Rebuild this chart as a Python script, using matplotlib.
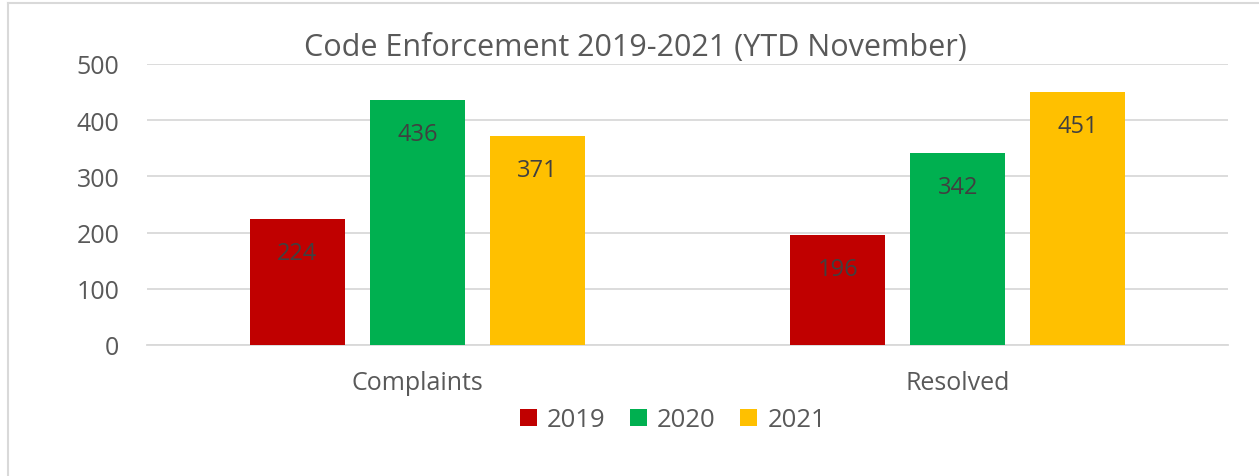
import matplotlib.pyplot as plt
import numpy as np
from matplotlib.lines import Line2D

# data
categories = ["Complaints", "Resolved"]
years = ["2019", "2020", "2021"]
values_2019 = [224, 196]
values_2020 = [436, 342]
values_2021 = [371, 451]
colors = ["#C00000", "#00B050", "#FFC000"]

plt.rcParams["font.family"] = ["Open Sans", "DejaVu Sans"]

fig = plt.figure(figsize=(12.59, 4.77), dpi=100)
ax = fig.add_axes([147 / 1259, 131 / 477, 1081 / 1259, 281 / 477])

x = np.arange(len(categories))
width = 0.176
step = 0.222
series = [values_2019, values_2020, values_2021]

for i, (vals, yr, col) in enumerate(zip(series, years, colors)):
    pos = x + (i - 1) * step
    bars = ax.bar(pos, vals, width, color=col, label=yr, zorder=3)
    for b, v in zip(bars, vals):
        ax.annotate(
            str(v),
            (b.get_x() + b.get_width() / 2, v),
            xytext=(0, -34),
            textcoords="offset pixels",
            ha="center",
            va="center",
            fontsize=17,
            color="#404040",
            zorder=4
        )

ax.set_xlim(-0.5, 1.5)
ax.set_ylim(0, 500)
ax.set_yticks(range(0, 501, 100))
ax.grid(axis="y", color="#d9d9d9", linewidth=1.3, zorder=0)
ax.set_xticks(x)
ax.set_xticklabels(categories)

for s in ["top", "right", "left"]:
    ax.spines[s].set_visible(False)
ax.spines["bottom"].set_color("#d9d9d9")
ax.spines["bottom"].set_linewidth(1.3)

ax.tick_params(axis="both", length=0, labelsize=18, labelcolor="#595959")
ax.tick_params(axis="x", pad=18)
ax.tick_params(axis="y", pad=20)

fig.text(
    0.505, 1 - 48 / 477,
    "Code Enforcement 2019-2021 (YTD November)",
    ha="center",
    va="center",
    fontsize=22,
    color="#595959"
)

leg = fig.legend(
    loc="center",
    bbox_to_anchor=(673 / 1259, 1 - 421 / 477),
    ncol=3,
    frameon=False,
    fontsize=18.5,
    handlelength=0.65,
    handleheight=0.65,
    handletextpad=0.4,
    columnspacing=0.95
)
for t in leg.get_texts():
    t.set_color("#595959")

# chart border (left + top)
fig.add_artist(Line2D([8 / 1259, 8 / 1259], [0, 1 - 4 / 477],
                      transform=fig.transFigure, color="#d9d9d9", linewidth=1.5))
fig.add_artist(Line2D([8 / 1259, 1], [1 - 4 / 477, 1 - 4 / 477],
                      transform=fig.transFigure, color="#d9d9d9", linewidth=1.5))

plt.savefig("out.png", dpi=100)
